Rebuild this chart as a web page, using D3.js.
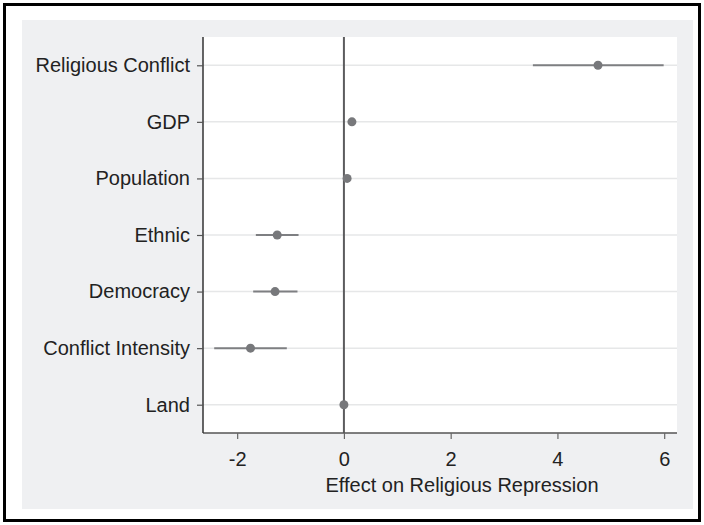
<!DOCTYPE html>
<html>
<head>
<meta charset="utf-8">
<script src="https://cdn.jsdelivr.net/npm/d3@7"></script>
<style>
  html, body { margin: 0; padding: 0; background: #fff; }
  svg { display: block; font-family: "Liberation Sans", Arial, Helvetica, sans-serif; }
</style>
</head>
<body>
<div id="chart"></div>
<script>
// Coefficient plot : estimation ponctuelle + intervalle de confiance par variable.
const variables = ["Religious Conflict", "GDP", "Population", "Ethnic", "Democracy", "Conflict Intensity", "Land"]
const estimates = [4.76, 0.15, 0.06, -1.25, -1.29, -1.75, 0.00]
const ciLow = [3.54, 0.11, 0.03, -1.65, -1.70, -2.43, -0.02]
const ciHigh = [5.99, 0.19, 0.09, -0.85, -0.87, -1.07, 0.02]
const xTicks = [-2, 0, 2, 4, 6]
const xTitle = "Effect on Religious Repression"

const W = 704, H = 525
const plot = { left: 203, right: 677, top: 37, bottom: 433 }

const svg = d3.select("#chart").append("svg")
  .attr("width", W).attr("height", H)

// Cadre noir + panneau gris
svg.append("rect")
  .attr("x", 4.5).attr("y", 4.5).attr("width", W - 9).attr("height", H - 9)
  .attr("fill", "#fff").attr("stroke", "#000").attr("stroke-width", 3)
svg.append("rect")
  .attr("x", 22).attr("y", 20).attr("width", 671).attr("height", 489)
  .attr("fill", "#eff0f2")
svg.append("rect")
  .attr("x", plot.left).attr("y", plot.top)
  .attr("width", plot.right - plot.left).attr("height", plot.bottom - plot.top)
  .attr("fill", "#fff")

const x = d3.scaleLinear().domain([-2.64, 6.24]).range([plot.left, plot.right])
const y = d3.scalePoint().domain(variables).range([plot.top, plot.bottom]).padding(0.5)

// Gridlines horizontales
svg.append("g")
  .selectAll("line").data(variables).join("line")
  .attr("x1", plot.left).attr("x2", plot.right)
  .attr("y1", d => y(d)).attr("y2", d => y(d))
  .attr("stroke", "#e6e7e8").attr("stroke-width", 1.5)

// Ligne de référence à zéro
svg.append("line")
  .attr("x1", x(0)).attr("x2", x(0)).attr("y1", plot.top).attr("y2", plot.bottom)
  .attr("stroke", "#5c5c5e").attr("stroke-width", 2)

// Axes
const xAxis = svg.append("g")
  .attr("transform", `translate(0,${plot.bottom})`)
  .call(d3.axisBottom(x).tickValues(xTicks).tickSize(6).tickPadding(13).tickFormat(d3.format("d")))
xAxis.select(".domain").attr("stroke", "#555").attr("stroke-width", 1.5)
  .attr("d", `M${plot.left},0H${plot.right}`)
xAxis.selectAll(".tick line").attr("stroke", "#666").attr("stroke-width", 1.2)
xAxis.selectAll(".tick text")
  .attr("font-size", 20).attr("fill", "#222").style("font-family", "inherit")
  .text(d => d < 0 ? "-" + Math.abs(d) : d)

const yAxis = svg.append("g")
  .attr("transform", `translate(${plot.left},0)`)
  .call(d3.axisLeft(y).tickSize(6).tickPadding(7))
yAxis.select(".domain").attr("stroke", "#333").attr("stroke-width", 1.5)
  .attr("d", `M0,${plot.top}V${plot.bottom}`)
yAxis.selectAll(".tick line").attr("stroke", "#555").attr("stroke-width", 1.2)
yAxis.selectAll(".tick text")
  .attr("font-size", 20).attr("fill", "#222").style("font-family", "inherit")

// Intervalles de confiance + points
const rows = variables.map((v, i) => ({ v, est: estimates[i], lo: ciLow[i], hi: ciHigh[i] }))
svg.append("g")
  .selectAll("line").data(rows).join("line")
  .attr("x1", d => x(d.lo)).attr("x2", d => x(d.hi))
  .attr("y1", d => y(d.v)).attr("y2", d => y(d.v))
  .attr("stroke", "#7e7f82").attr("stroke-width", 2)
svg.append("g")
  .selectAll("circle").data(rows).join("circle")
  .attr("cx", d => x(d.est)).attr("cy", d => y(d.v)).attr("r", 4.5)
  .attr("fill", "#77787b")

// Titre axe X
svg.append("text")
  .attr("x", 462).attr("y", 492)
  .attr("text-anchor", "middle").attr("font-size", 20).attr("fill", "#222")
  .text(xTitle)
</script>
</body>
</html>
